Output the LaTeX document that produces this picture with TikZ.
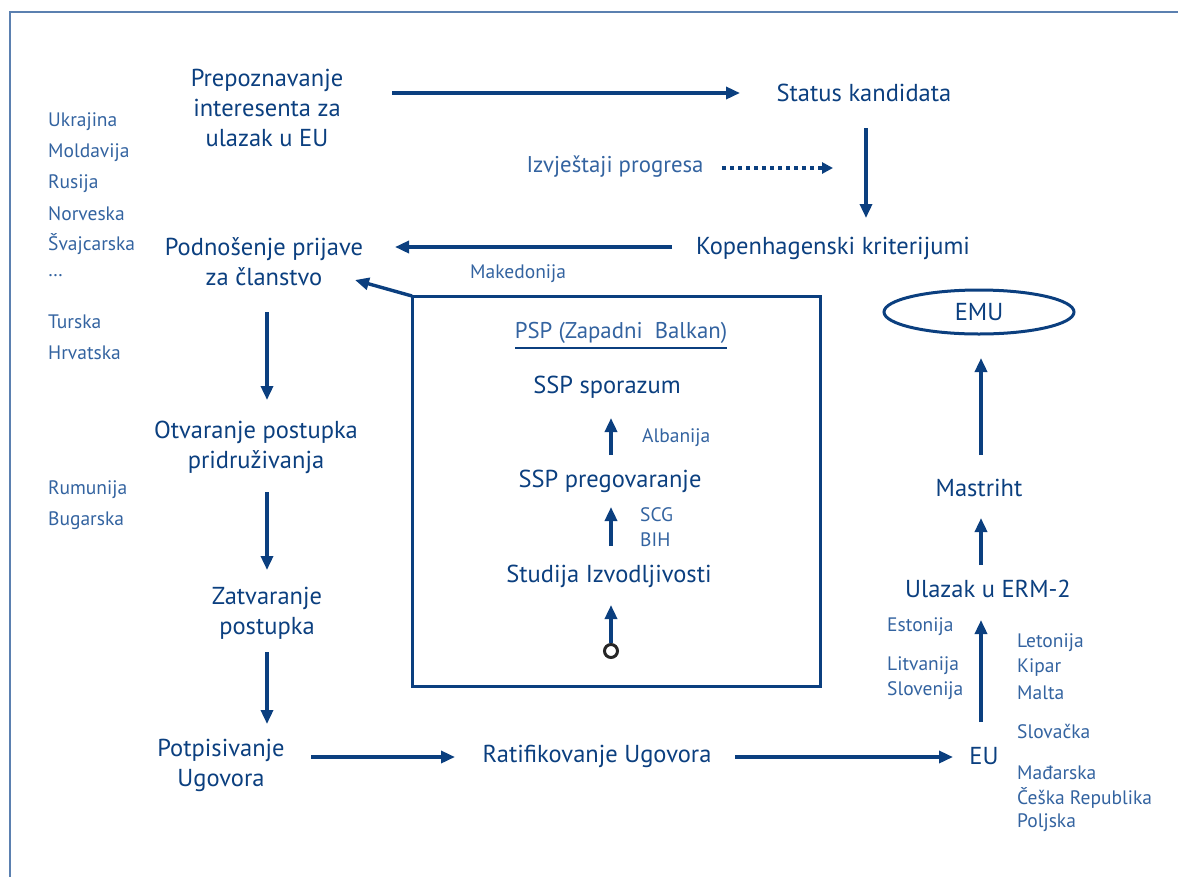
\documentclass[tikz,border=0pt]{standalone}
\usepackage{fontspec}
\setmainfont{PT Sans}
\usetikzlibrary{arrows.meta,calc}
\definecolor{eublue}{HTML}{0B3F7F}
\definecolor{ctry}{HTML}{3363A0}
\definecolor{frame}{HTML}{5B80B0}
\tikzset{
  main/.style={text=eublue,font=\fontsize{24.5}{30}\selectfont,align=center,inner sep=0pt},
  sub/.style={text=ctry,font=\fontsize{22.8}{30}\selectfont,align=center,inner sep=0pt},
  cty/.style={text=ctry,font=\fontsize{19.5}{25}\selectfont,anchor=west,inner sep=0pt},
  arr/.style={draw=eublue,line width=3.4pt,-{Triangle[length=14pt,width=12pt]}},
}
\begin{document}
\begin{tikzpicture}[x=1pt,y=-1pt]
\useasboundingbox (0,0) rectangle (1178,876);
\draw[frame,line width=2pt] (10,900) -- (10,12) -- (1200,12);
% main nodes
\node[main] (prep) at (267,108) {Prepoznavanje\\interesenta za\\ulazak u EU};
\node[main] (status) at (864,93) {Status kandidata};
\node[sub] (izv) at (615,167) {Izvještaji progresa};
\node[main] (kop) at (833,248) {Kopenhagenski kriterijumi};
\node[main] (podn) at (264,262) {Podnošenje prijave\\za članstvo};
\node[main] (otv) at (256,447) {Otvaranje postupka\\pridruživanja};
\node[main] (zatv) at (267,613) {Zatvaranje\\postupka};
\node[main] (potp) at (221,765) {Potpisivanje\\Ugovora};
\node[main] (rat) at (597,756) {Ratifikovanje Ugovora};
\node[main] (eu) at (984,756) {EU};
\node[main] (erm) at (988,589) {Ulazak u ERM-2};
\node[main] (mast) at (979,488) {Mastriht};
\draw[eublue,line width=3pt] (979,312) ellipse (95 and 22);
\node[main] (emu) at (979,312) {EMU};
% box
\draw[eublue,line width=3pt] (412,296) rectangle (820,686);
\coordinate (boxcorner) at (412,296);
\node[cty] (mak) at (470,274) {Makedonija};
\node[sub] (psp) at (621,333) {PSP (Zapadni\ \ Balkan)};
\draw[eublue,line width=1.5pt] (515,348) -- (727,348);
\node[main] (sspz) at (607,387) {SSP sporazum};
\node[main] (sspp) at (610,481) {SSP pregovaranje};
\node[main] (stud) at (609,576) {Studija Izvodljivosti};
\node[cty] (alb) at (642,438) {Albanija};
\node[cty] (scg) at (640,515) {SCG};
\node[cty] (bih) at (640,540) {BIH};
\node[draw=black!85,line width=3pt,fill=white,circle,minimum size=13pt,inner sep=0pt] (start) at (611,651) {};
% country lists
\node[cty] (c1) at (48,122) {Ukrajina};
\node[cty] (c2) at (48,153) {Moldavija};
\node[cty] (c3) at (48,184) {Rusija};
\node[cty] (c4) at (48,214) {Norveska};
\node[cty] (c5) at (48,244) {Švajcarska};
\node[cty] (c6) at (48,276) {\dots};
\node[cty] (c7) at (48,322) {Turska};
\node[cty] (c8) at (48,353) {Hrvatska};
\node[cty] (c9) at (48,490) {Rumunija};
\node[cty] (c10) at (48,521) {Bugarska};
\node[cty] (r1) at (887,627) {Estonija};
\node[cty] (r2) at (887,666) {Litvanija};
\node[cty] (r3) at (887,691) {Slovenija};
\node[cty] (r4) at (1017,643) {Letonija};
\node[cty] (r5) at (1017,668) {Kipar};
\node[cty] (r6) at (1017,693) {Malta};
\node[cty] (r7) at (1017,731) {Slovačka};
\node[cty] (r8) at (1017,773) {Mađarska};
\node[cty] (r9) at (1017,798) {Češka Republika};
\node[cty] (r10) at (1017,823) {Poljska};
% arrows
\draw[arr] (392,93) -- (740,93);
\draw[arr] (866,128) -- (866,218);
\draw[draw=eublue,line width=4pt,dash pattern=on 4pt off 4pt,-{Triangle[length=11pt,width=11pt]}] (722,168) -- (833,168);
\draw[arr] (672,247) -- (395,247);
\draw[arr] (boxcorner) -- (355,280);
\draw[arr] (267,312) -- (267,400);
\draw[arr] (267,492) -- (267,570);
\draw[arr] (267,652) -- (267,724);
\draw[arr] (311,757) -- (455,757);
\draw[arr] (735,757) -- (953,757);
\draw[arr] (981,722) -- (981,620);
\draw[arr] (981,565) -- (981,518);
\draw[arr] (981,455) -- (981,358);
\draw[arr] (611,455) -- (611,418);
\draw[arr] (611,546) -- (611,507);
\draw[arr] (start) -- (611,605);
\end{tikzpicture}
\end{document}
